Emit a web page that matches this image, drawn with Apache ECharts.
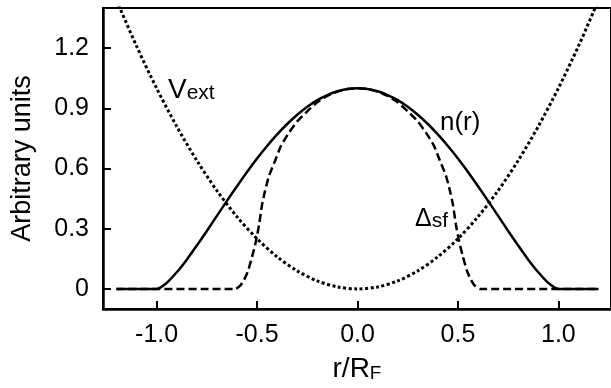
<!DOCTYPE html>
<html><head><meta charset="utf-8">
<script src="https://cdn.jsdelivr.net/npm/echarts@6/dist/echarts.min.js"></script>
<style>html,body{margin:0;padding:0;background:#fff}#c{width:611px;height:388px}</style>
</head><body><div id="c"></div>
<script>
// ---- data ----
const xTicks = [-1.0, -0.5, 0.0, 0.5, 1.0];
const yTicks = [0, 0.3, 0.6, 0.9, 1.2];

const nX = [-1.2,-1.0,-0.95,-0.9,-0.85,-0.8,-0.75,-0.7,-0.65,-0.6,-0.55,-0.5,-0.45,-0.4,-0.35,-0.3,-0.25,-0.2,-0.15,-0.1,-0.05,0,
            0.05,0.1,0.15,0.2,0.25,0.3,0.35,0.4,0.45,0.5,0.55,0.6,0.65,0.7,0.75,0.8,0.85,0.9,0.95,1.0,1.2];
const nY = [0,0,0.03,0.083,0.146,0.216,0.289,0.364,0.439,0.512,0.583,0.65,0.712,0.77,0.822,0.868,0.908,0.941,0.966,0.985,0.996,1.0,
            0.996,0.985,0.966,0.941,0.908,0.868,0.822,0.77,0.712,0.65,0.583,0.512,0.439,0.364,0.289,0.216,0.146,0.083,0.03,0,0];

const dX = [-1.2,-0.61,-0.585,-0.565,-0.545,-0.525,-0.505,-0.49,-0.475,-0.46,-0.44,-0.41,-0.38,-0.34,-0.3,-0.25,-0.2,-0.15,-0.1,-0.05,0,
            0.05,0.1,0.15,0.2,0.25,0.3,0.34,0.38,0.41,0.44,0.46,0.475,0.49,0.505,0.525,0.545,0.565,0.585,0.61,1.2];
const dY = [0,0,0.015,0.045,0.09,0.16,0.24,0.32,0.42,0.49,0.565,0.64,0.715,0.78,0.835,0.885,0.93,0.962,0.983,0.996,1.0,
            0.996,0.983,0.962,0.93,0.885,0.835,0.78,0.715,0.64,0.565,0.49,0.42,0.32,0.24,0.16,0.09,0.045,0.015,0,0];

const vX = [-1.2,-1.1,-1.0,-0.9,-0.8,-0.7,-0.6,-0.5,-0.4,-0.3,-0.2,-0.1,0,0.1,0.2,0.3,0.4,0.5,0.6,0.7,0.8,0.9,1.0,1.1,1.2];
const vY = [1.44,1.21,1.0,0.81,0.64,0.49,0.36,0.25,0.16,0.09,0.04,0.01,0,0.01,0.04,0.09,0.16,0.25,0.36,0.49,0.64,0.81,1.0,1.21,1.44];

const pairs = (xs, ys) => xs.map((x, i) => [x, ys[i]]);
const FONT = 'Liberation Sans, Arial, sans-serif';

const chart = echarts.init(document.getElementById('c'), null, {renderer: 'canvas'});
chart.setOption({
  animation: false,
  backgroundColor: '#fff',
  grid: {left: 103, top: 8, right: -3, bottom: 76, show: true, borderColor: '#000', borderWidth: 2, containLabel: false},
  xAxis: {
    type: 'value', min: -1.267, max: 1.262,
    axisLine: {show: true, onZero: false, lineStyle: {color: '#000', width: 2.5}},
    axisTick: {show: true, inside: true, length: 8, lineStyle: {color: '#000', width: 2}, customValues: xTicks},
    axisLabel: {customValues: xTicks, color: '#000', fontSize: 25, fontFamily: FONT, margin: 14,
      formatter: v => v.toFixed(1)},
    splitLine: {show: false},
    name: '{a|r/R}{b|F}', nameLocation: 'middle', nameGap: 46,
    nameTextStyle: {color: '#000', fontFamily: FONT,
      rich: {a: {fontSize: 28, lineHeight: 28, verticalAlign: 'top', fontFamily: FONT, color: '#000'},
             b: {fontSize: 19, lineHeight: 8, verticalAlign: 'bottom', fontFamily: FONT, color: '#000'}}}
  },
  yAxis: {
    type: 'value', min: -0.1, max: 1.4,
    axisLine: {show: true, onZero: false, lineStyle: {color: '#000', width: 2.5}},
    axisTick: {show: true, inside: true, length: 8, lineStyle: {color: '#000', width: 2}, customValues: yTicks},
    axisLabel: {customValues: yTicks, color: '#000', fontSize: 25, fontFamily: FONT, margin: 14,
      formatter: v => v === 0 ? '0' : v.toFixed(1)},
    splitLine: {show: false},
    name: 'Arbitrary units', nameLocation: 'middle', nameGap: 67, nameRotate: 90,
    nameTextStyle: {color: '#000', fontSize: 27, fontFamily: FONT}
  },
  series: [
    {type: 'line', name: 'n(r)', data: pairs(nX, nY), showSymbol: false, smooth: 0.25,
     lineStyle: {color: '#000', width: 2.5}, z: 3},
    {type: 'line', name: 'Δsf', data: pairs(dX, dY), showSymbol: false, smooth: 0.2,
     lineStyle: {color: '#000', width: 2.5, type: [8, 4]}, z: 2},
    {type: 'line', name: 'Vext', data: pairs(vX, vY), showSymbol: false, smooth: 0.3,
     lineStyle: {color: '#000', width: 3, type: [3, 2.5]}, z: 1}
  ],
  graphic: [
    {type: 'text', x: 168, y: 76, style: {text: '{a|V}{b|ext}', fill: '#000',
      rich: {a: {fontSize: 28, lineHeight: 28, verticalAlign: 'top', fontFamily: FONT},
             b: {fontSize: 21, lineHeight: 15, verticalAlign: 'bottom', fontFamily: FONT}}}},
    {type: 'text', x: 440, y: 110, style: {text: 'n(r)', fill: '#000', fontSize: 26, fontFamily: FONT}},
    {type: 'text', x: 415, y: 207, style: {text: '{a|Δ}{b|sf}', fill: '#000',
      rich: {a: {fontSize: 25, lineHeight: 25, verticalAlign: 'top', fontFamily: FONT},
             b: {fontSize: 21, lineHeight: 12, verticalAlign: 'bottom', fontFamily: FONT}}}}
  ]
});
</script></body></html>
